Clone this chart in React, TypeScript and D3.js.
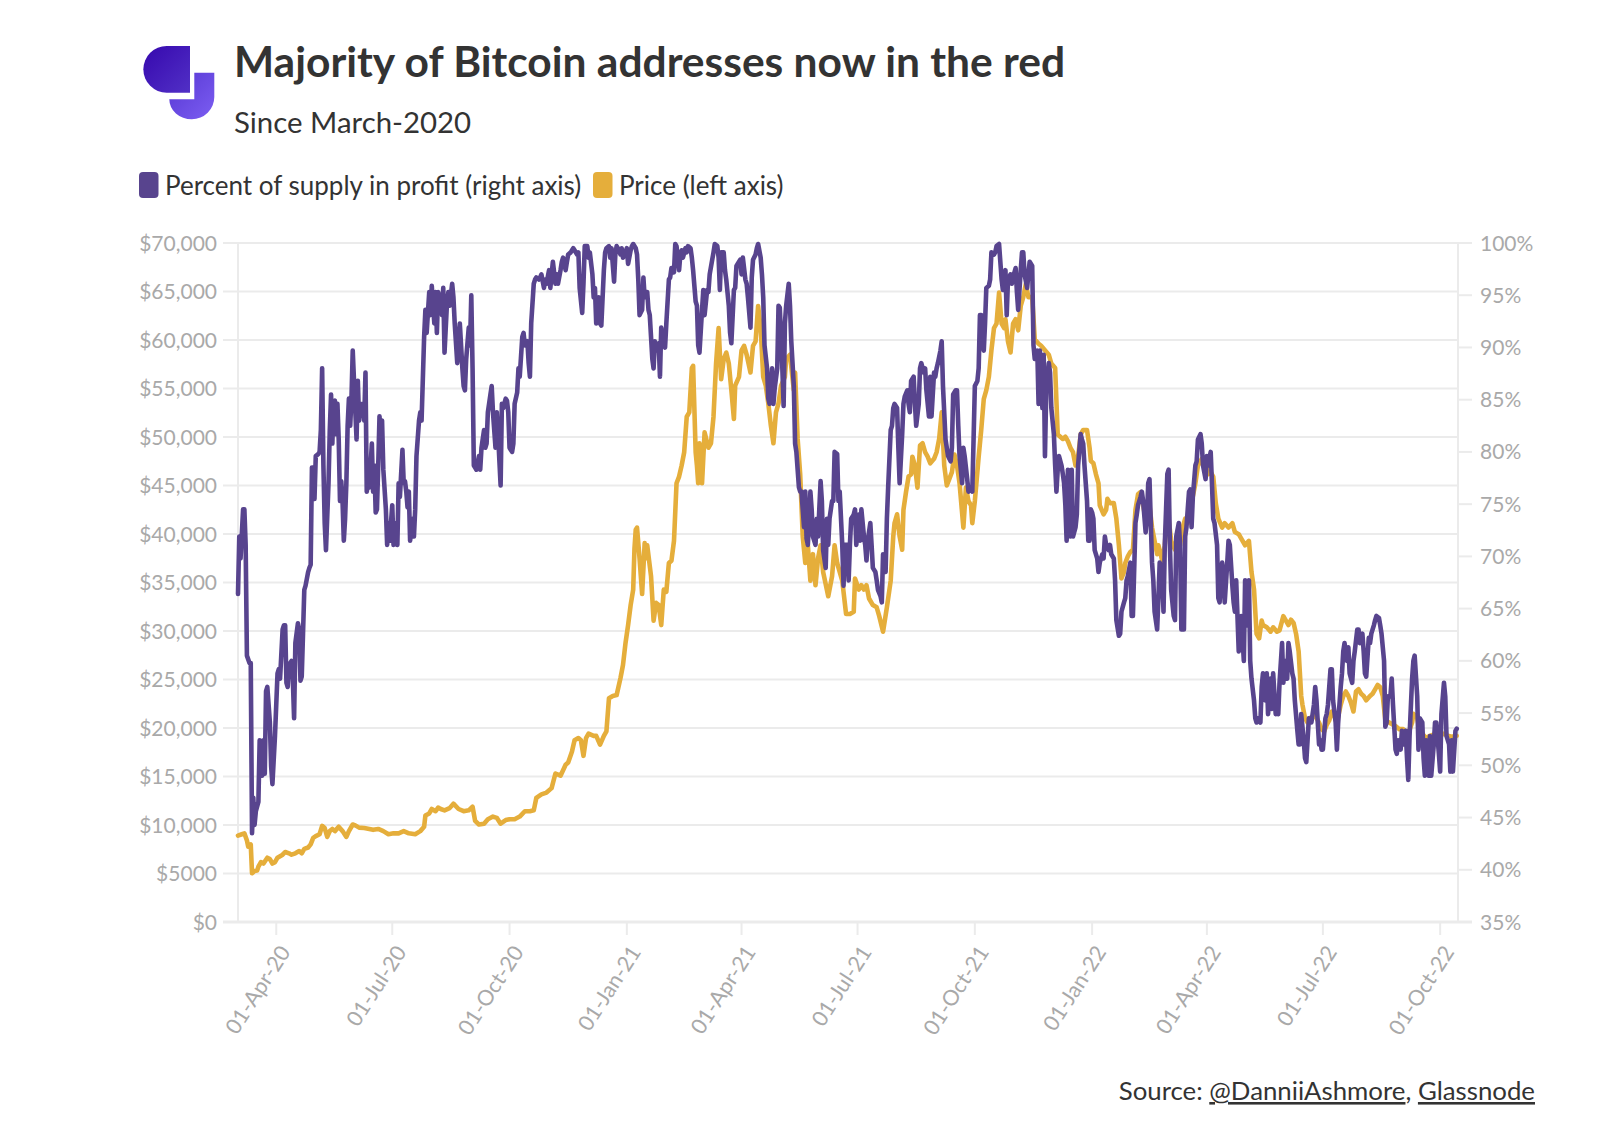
import React from "react";
import * as d3 from "d3";

// ---------- text ----------
const TITLE = "Majority of Bitcoin addresses now in the red";
const SUBTITLE = "Since March-2020";
const LEGEND_LABELS = ["Percent of supply in profit (right axis)", "Price (left axis)"];
const SOURCE_PREFIX = "Source: ";
const SOURCE_LINKS = ["@DanniiAshmore", "Glassnode"];

// ---------- axes ----------
const SERIES_START = "2020-03-02";
const SERIES_END = "2022-10-15";
const dateTicks = [
  "2020-04-01", "2020-07-01", "2020-10-01", "2021-01-01", "2021-04-01", "2021-07-01",
  "2021-10-01", "2022-01-01", "2022-04-01", "2022-07-01", "2022-10-01",
];
const priceTicks = [0, 5000, 10000, 15000, 20000, 25000, 30000, 35000, 40000, 45000, 50000, 55000, 60000, 65000, 70000];
const profitTicks = [35, 40, 45, 50, 55, 60, 65, 70, 75, 80, 85, 90, 95, 100];

// ---------- data: [days since SERIES_START, value] ----------
// BTC price, USD (left axis)
const price: [number, number][] = [
  [0,8910],[3,9050],[5,9140],[7,8400],[8,7770],[10,8000],[11,5030],[13,5250],[15,5300],[16,5710],[18,6170],[20,6030],[23,6630],[25,6490],[27,6030],[29,6170],[31,6630],[35,6940],[37,7220],[40,7080],[42,6940],[45,7080],[48,7310],[50,7080],[52,7540],[55,7680],[57,8000],[59,8680],[61,8860],[64,9050],[66,9910],[68,9690],[70,8770],[72,9370],[74,9590],[76,9370],[79,9820],[82,9370],[85,8770],[87,9370],[90,10050],[92,9960],[95,9730],[99,9690],[103,9590],[106,9500],[110,9590],[114,9370],[118,9050],[122,9140],[126,9140],[130,9370],[134,9140],[139,9050],[143,9370],[146,9820],[147,10970],[150,11190],[152,11650],[155,11420],[157,11790],
  [159,11650],[162,11510],[166,11740],[169,12200],[173,11650],[177,11420],[181,11510],[184,11880],[186,10420],[189,10050],[193,10140],[196,10600],[200,10870],[203,10740],[206,10140],[210,10510],[213,10600],[217,10600],[221,10870],[225,11420],[229,11420],[232,11510],[234,12790],[238,13160],[242,13340],[246,13800],[249,15310],[253,15080],[257,16220],[259,16450],[262,17590],[264,18730],[267,18960],[269,18730],[271,17130],[273,18960],[275,19420],[279,19190],[281,19190],[284,18280],[287,19190],[289,19650],[291,23070],[294,23300],[297,23390],[300,25130],[302,26500],[304,28780],[306,30610],[308,32670],[310,34270],[311,38500],[312,40440],[313,40660],[315,37470],[317,33810],[319,39060],[320,37500],[321,38840],
  [324,35640],[326,31070],[328,32900],[330,32670],[332,30610],[334,34270],[336,34040],[338,37010],[340,37240],[342,39290],[344,45230],[346,45920],[348,47060],[350,48430],[352,52090],[354,52540],[356,57110],[357,57340],[359,48430],[360,47060],[361,45230],[362,49350],[364,45230],[366,50490],[369,48890],[371,49350],[373,52090],[375,57570],[377,61220],[379,55970],[381,58020],[383,58710],[385,57570],[387,54830],[389,51860],[390,55290],[393,56200],[395,58940],[397,59400],[399,58480],[402,56650],[404,59400],[406,59850],[408,63510],[410,61220],[412,56200],[414,55290],[416,53460],[418,51170],[420,49350],[422,52540],[424,53460],[426,55290],[429,56200],[430,58020],[433,58480],[436,54830],[437,56650],[439,49800],[441,46150],[443,39750],[445,37010],[447,38840],[449,35180],[451,37920],[453,34720],[455,37470],[457,38840],[459,36090],[463,33580],[466,35640],[468,38840],[470,37010],[474,35180],[477,31750],[480,31750],[483,31980],
  [484,35410],[487,34270],[489,34720],[491,34270],[493,34720],[495,33350],[498,32670],[501,32440],[503,31530],[506,29930],[509,32440],[512,35180],[514,39750],[515,41120],[517,42030],[519,39750],[521,38380],[522,42490],[524,44320],[526,45920],[528,46150],[529,47970],[531,47060],[533,44780],[535,49120],[537,49350],[539,48430],[541,47970],[543,47290],[546,47750],[548,48430],[550,49800],[552,52540],[554,47060],[556,45000],[558,45690],[560,46380],[562,48200],[564,47060],[566,45230],[569,40660],[571,44780],[573,43400],[575,42950],[576,41120],[578,43400],[581,47970],[583,50720],[585,53910],[587,54830],[589,56200],[591,58940],[593,61220],[595,61680],[597,64880],[599,61680],[601,61220],[602,62140],[604,59850],[606,58710],[608,61680],[610,62140],[612,61000],[614,63510],[616,64420],[618,65790],[620,64420],[623,64420],[625,60080],[628,59620],[630,59400],[633,58940],[636,58480],[638,57570],
  [641,57110],[643,50260],[647,49800],[649,50030],[651,49570],[653,48890],[655,48430],[657,47060],[659,47970],[661,50260],[663,50720],[666,50720],[668,48890],[669,47520],[671,47290],[673,46150],[675,45230],[676,42950],[679,42030],[681,42490],[682,43630],[684,43180],[687,43180],[689,41580],[691,38840],[693,35410],[695,36090],[696,37010],[698,37690],[700,38150],[702,38380],[704,42490],[706,44090],[708,44320],[711,42260],[713,42490],[715,42950],[717,40660],[719,39290],[721,37920],[722,38840],[725,37240],[727,38840],[729,42490],[730,41580],[732,39290],[735,38380],[737,39290],[739,38840],[741,40660],[743,41580],[745,41120],[747,42490],[749,43860],[751,45230],[753,47060],[756,47750],[759,47290],[761,46150],[763,46380],[765,45920],[767,43180],[769,41580],[772,40660],[774,41120],[777,40660],[780,41120],[782,40200],[785,39980],[787,39520],[790,38840],[793,39290],[795,36090],[797,34270],[799,29700],[801,29240],[803,31070],
  [804,30610],[807,30380],[810,29930],[812,30380],[815,29930],[817,30060],[820,31530],[822,31070],[824,30610],[826,31160],[828,30840],[830,29700],[832,27870],[834,23300],[835,22390],[837,21020],[839,20560],[841,21020],[844,21250],[846,21020],[848,20560],[850,19880],[852,19650],[854,20330],[856,20790],[858,21700],[860,21250],[862,20560],[865,22390],[867,23300],[869,23760],[871,23300],[873,22620],[875,21700],[877,23760],[879,23990],[881,23530],[883,23300],[885,22850],[888,23300],[890,23530],[892,23990],[894,24440],[896,24210],[898,23300],[900,20790],[903,20560],[906,20330],[908,20200],[911,19880],[914,19880],[916,19650],[918,19420],[921,20560],[922,21470],[925,21020],[927,19650],[929,19420],[932,18960],[935,19190],[937,19280],[940,19420],[943,19190],[946,19420],[949,19190],[952,19100],[956,19190],
];

// Percent of supply in profit, % (right axis)
const profit: [number, number][] = [
  [0,66.4],[1,71.9],[2,69.8],[4,74.5],[5,74.5],[6,71.1],[7,60.5],[9,59.8],[10,59.8],[11,43.5],[12,46.9],[13,44.3],[14,45.6],[16,46.5],[17,52.4],[19,49.0],[20,52.4],[21,49.2],[22,57.1],[23,57.5],[25,54.1],[26,49.9],[27,48.2],[29,52.8],[31,58.8],[32,59.2],[33,58.3],[35,63.0],[36,63.4],[37,63.4],[38,57.9],[39,57.5],[40,59.6],[42,60.0],[43,58.3],[44,54.5],[45,61.7],[47,63.6],[48,63.0],[49,58.1],[50,58.5],[51,62.6],[52,66.8],[53,67.2],[55,68.5],[56,68.9],[57,69.2],[58,78.5],[59,78.5],[60,75.5],[61,79.6],[63,79.8],[64,80.0],[65,82.1],[66,88.0],[67,78.7],[68,73.2],[69,70.6],[71,77.0],[72,82.1],[73,85.5],[74,80.8],[75,84.6],[76,84.9],[77,81.7],[78,84.6],[79,81.2],[80,75.3],[81,77.2],[82,75.3],[83,71.5],[84,73.6],[85,77.0],[86,82.5],[87,85.1],[88,82.5],[89,85.1],[90,89.7],[91,86.8],[93,81.2],[94,86.8],[95,83.0],[96,84.6],[97,83.8],[98,84.6],[99,83.0],[100,87.6],[101,76.2],[102,77.0],[103,76.6],[105,80.8],[106,76.2],[107,78.7],[108,74.2],[109,74.5],[110,78.7],[111,83.4],[112,81.2],[113,83.0],[114,78.3],[116,74.5],[117,71.1],[118,73.2],[119,71.5],[121,74.9],[122,71.1],[123,73.2],[125,71.1],[126,77.0],[127,75.7],[129,80.2],[130,77.0],[131,77.2],[132,76.2],[133,74.7],[134,76.2],[135,71.5],[137,73.6],[138,71.9],[139,74.5],[140,79.6],[142,83.0],[143,83.8],[144,83.0],[146,91.0],[147,93.6],[148,91.4],[150,95.3],[151,93.1],[152,95.9],[154,92.3],[155,95.3],[156,91.4],[157,95.3],
  [159,94.4],[160,93.1],[161,95.7],[162,89.5],[164,94.4],[165,95.3],[166,94.0],[168,96.1],[169,94.8],[170,92.3],[172,88.5],[173,90.2],[174,92.3],[176,88.0],[177,86.3],[178,85.9],[179,88.9],[181,91.9],[182,90.2],[183,95.0],[184,88.0],[185,78.7],[186,78.5],[187,78.3],[189,79.6],[190,78.3],[191,80.4],[193,82.1],[194,80.4],[195,80.8],[196,83.8],[198,85.5],[199,86.3],[200,83.8],[202,80.4],[203,83.8],[204,81.7],[206,76.8],[207,84.6],[208,84.2],[210,85.1],[211,84.9],[212,83.8],[213,80.4],[215,80.0],[216,80.8],[217,84.6],[219,85.7],[220,88.0],[221,87.2],[223,91.0],[224,91.4],[225,90.2],[227,90.6],[228,88.5],[229,87.2],[230,92.3],[232,96.1],[233,96.5],[234,96.7],[236,96.5],[237,96.7],[238,97.0],[240,95.7],[241,96.5],[242,96.1],[244,97.4],[245,95.7],[246,97.0],[247,98.2],[249,96.1],[250,97.0],[251,96.1],[253,97.4],[254,98.2],[255,98.6],[257,97.4],[258,98.2],[259,98.9],[261,99.1],[262,99.3],[263,99.5],[264,99.3],[266,98.9],[267,99.1],[268,95.7],[270,93.3],[271,96.1],[272,99.7],[274,99.7],[275,98.6],[276,99.1],[278,97.0],[279,94.8],[280,95.7],[281,92.3],[283,94.8],[284,92.3],[285,92.1],[287,97.4],[288,99.1],[289,99.5],[291,99.7],[292,98.6],[293,99.5],[295,96.3],[296,98.9],[297,99.7],[298,99.5],[300,98.9],[301,99.5],[302,98.6],[304,99.1],[305,99.5],[306,98.0],[308,99.3],[309,99.7],[310,99.9],[312,99.5],[313,98.9],[314,96.5],[315,93.1],[317,93.6],[318,96.7],[319,94.8],[321,95.3],
  [322,93.6],[323,93.1],[325,88.9],[326,88.0],[327,90.6],[328,89.7],[330,90.4],[331,87.2],[332,91.9],[334,90.2],[335,90.0],[336,92.3],[338,96.5],[339,96.7],[340,97.6],[342,97.2],[343,99.9],[344,99.7],[346,97.4],[347,98.9],[348,99.3],[349,98.6],[351,99.5],[352,99.1],[353,99.7],[355,99.5],[356,98.6],[357,97.4],[359,94.4],[360,94.0],[361,90.2],[362,89.5],[364,93.6],[365,95.5],[366,93.1],[368,95.5],[369,95.3],[370,97.0],[372,98.4],[373,99.1],[374,99.9],[376,99.7],[377,98.6],[378,95.5],[379,99.1],[381,99.1],[382,97.4],[383,96.5],[385,94.0],[386,91.4],[387,90.4],[389,95.5],[390,95.7],[391,97.8],[393,98.2],[394,98.4],[395,97.0],[396,98.6],[398,96.5],[399,96.1],[400,94.8],[402,91.9],[403,96.7],[404,98.4],[406,98.9],[407,99.5],[408,99.9],[410,98.6],[411,97.0],[412,94.8],[413,90.2],[415,88.0],[416,85.1],[417,84.6],[419,88.0],[420,84.6],[421,86.1],[423,88.0],[424,94.0],[425,93.8],[427,88.0],[428,84.4],[429,92.3],[430,94.0],[432,96.1],[433,94.0],[434,90.6],[436,86.3],[437,80.8],[438,80.0],[440,76.6],[441,76.2],[442,76.2],[444,72.8],[445,76.2],[446,71.7],[447,71.1],[449,76.2],[450,74.5],[451,71.9],[453,71.1],[454,73.6],[455,71.9],[457,77.2],[458,75.3],[459,70.6],[461,68.9],[462,73.6],[463,71.1],[464,73.6],[466,75.3],[467,75.3],[468,80.0],[470,79.8],[471,75.3],[472,76.2],[474,71.1],[475,67.2],[476,71.1],[478,71.1],[479,67.7],[480,71.1],[481,73.6],[483,74.0],
  [484,74.5],[485,71.1],[487,74.0],[488,71.5],[489,74.5],[491,71.9],[492,71.1],[493,69.6],[494,71.5],[496,73.2],[497,71.1],[498,68.9],[500,68.5],[501,67.7],[502,66.8],[504,66.2],[505,65.6],[506,70.2],[508,68.5],[509,73.6],[510,76.6],[512,82.1],[513,82.5],[514,84.2],[515,84.6],[517,84.2],[518,80.4],[519,77.0],[521,81.7],[522,84.6],[523,85.3],[525,85.9],[526,84.6],[527,83.8],[528,86.8],[530,87.2],[531,84.6],[532,82.5],[534,84.6],[535,88.0],[536,88.5],[538,87.6],[539,88.0],[540,85.9],[542,83.4],[543,87.2],[544,83.4],[546,87.6],[547,87.2],[548,88.0],[549,88.5],[551,89.7],[552,90.6],[553,86.3],[555,81.2],[556,80.4],[557,79.6],[559,79.1],[560,80.4],[561,85.5],[563,85.9],[564,85.9],[565,82.5],[566,79.6],[568,77.0],[569,80.4],[570,79.6],[572,77.4],[573,76.2],[574,76.6],[576,76.2],[577,81.2],[578,86.3],[580,86.8],[581,88.0],[582,93.1],[583,93.1],[585,89.7],[586,92.3],[587,95.7],[589,95.9],[590,96.5],[591,99.1],[593,98.9],[594,99.1],[595,99.7],[597,99.9],[598,98.2],[599,96.5],[600,95.5],[602,97.4],[603,93.1],[604,96.5],[606,97.0],[607,96.1],[608,96.7],[610,97.6],[611,95.3],[612,93.6],[614,97.4],[615,99.1],[616,99.1],[617,97.0],[619,95.7],[620,97.0],[621,98.2],[623,97.8],[624,90.2],[625,88.9],[627,89.7],[628,84.6],[629,89.7],[631,84.2],[632,89.3],[633,79.6],[634,85.9],[636,88.5],[637,87.6],[638,84.2],[640,81.7],[641,78.7],[642,76.2],[643,78.3],
  [644,79.6],[646,78.7],[647,77.9],[648,77.0],[649,74.9],[650,71.5],[651,78.3],[653,71.9],[654,78.3],[655,71.9],[657,72.8],[658,74.0],[659,78.7],[661,81.7],[662,81.2],[663,80.8],[664,78.7],[666,75.3],[667,71.5],[668,71.5],[669,74.5],[670,74.2],[671,73.6],[672,70.6],[674,69.8],[675,68.5],[676,69.4],[678,70.2],[679,69.8],[680,71.9],[681,71.1],[683,70.6],[684,71.1],[685,70.2],[687,69.8],[688,67.7],[689,63.9],[691,62.4],[692,62.6],[693,64.7],[695,65.6],[696,66.0],[697,67.7],[698,68.1],[700,69.4],[701,64.3],[702,64.3],[704,73.2],[705,74.0],[706,74.9],[708,75.7],[709,76.2],[710,75.3],[712,72.3],[713,73.6],[714,77.0],[715,77.4],[717,69.4],[718,67.7],[719,64.7],[721,63.0],[722,66.0],[723,69.4],[725,68.1],[726,64.7],[727,71.1],[729,77.9],[730,78.3],[731,71.1],[732,66.8],[734,64.3],[735,63.9],[736,71.9],[738,73.2],[739,71.1],[740,63.0],[742,63.0],[743,71.9],[744,72.8],[746,76.2],[747,76.4],[748,72.8],[749,75.7],[751,78.7],[752,79.1],[753,81.2],[755,81.7],[756,80.8],[757,78.7],[759,77.4],[760,79.6],[761,78.7],[763,80.0],[764,77.0],[765,73.6],[766,73.2],[768,71.1],[769,66.0],[770,65.6],[772,69.4],[773,68.5],[774,65.6],[776,69.4],[777,71.5],[778,71.1],[780,67.2],[781,65.6],[782,64.7],[783,67.7],[785,60.9],[786,61.7],[787,64.3],[789,60.0],[790,67.7],[791,63.4],[793,67.7],[794,60.0],[795,58.3],[797,56.2],[798,54.5],[799,54.1],[800,54.5],[802,54.1],[803,57.5],[804,58.8],
  [806,56.2],[807,58.8],[808,54.9],[810,58.3],[811,55.4],[812,58.8],[814,54.9],[815,55.8],[816,54.9],[817,57.9],[819,61.7],[820,57.9],[821,60.0],[823,58.3],[824,61.7],[825,60.9],[827,58.8],[828,58.3],[829,56.2],[831,53.3],[832,52.0],[833,52.0],[834,54.9],[836,52.4],[837,50.7],[838,50.3],[840,54.5],[841,54.1],[842,54.1],[844,55.8],[845,57.5],[846,56.2],[848,52.0],[849,52.4],[850,51.5],[851,51.5],[853,54.5],[854,54.9],[855,55.8],[857,59.2],[858,59.2],[859,56.2],[861,54.1],[862,51.5],[863,54.1],[865,57.5],[866,58.8],[867,60.9],[868,61.7],[870,60.0],[871,61.3],[872,58.8],[874,57.9],[875,60.0],[876,60.9],[878,63.0],[879,63.0],[880,61.7],[882,62.6],[883,60.9],[884,58.8],[885,58.5],[887,62.2],[888,61.7],[889,62.6],[891,63.4],[892,63.9],[893,64.3],[895,64.1],[896,63.4],[897,62.6],[899,60.0],[900,53.7],[901,54.1],[902,56.6],[904,56.6],[905,58.3],[906,55.8],[908,51.5],[909,51.1],[910,52.4],[912,51.5],[913,53.3],[914,52.0],[916,53.3],[917,50.7],[918,48.6],[919,52.8],[921,58.3],[922,60.0],[923,60.5],[925,56.6],[926,51.5],[927,54.5],[929,54.1],[930,50.7],[931,49.0],[932,52.4],[934,49.0],[935,52.8],[936,49.0],[938,52.0],[939,54.1],[940,54.1],[942,51.1],[943,49.4],[944,54.9],[946,57.9],[947,56.6],[948,52.8],[950,52.0],[951,49.4],[952,52.4],[953,49.4],[955,53.3],[956,53.5],
];

// ---------- styles ----------
const FONT = "Lato, 'Open Sans', 'DejaVu Sans', sans-serif";
const PURPLE = "#58448e";
const GOLD = "#e5ae3b";
const GRID = "#ebebeb";
const TICK_TEXT = "#a9a9a9";
const TEXT = "#333333";

export default function App() {
  const W = 1600;
  const H = 1130;
  const left = 238, right = 1458, top = 243, bottom = 922;

  const start = new Date(SERIES_START + "T00:00:00Z");
  const end = new Date(SERIES_END + "T00:00:00Z");
  const toDate = (d: number) => d3.utcDay.offset(start, d);

  const x = d3.scaleUtc().domain([start, end]).range([left, right]);
  const yPrice = d3.scaleLinear().domain([0, 70000]).range([bottom, top]);
  const yPct = d3.scaleLinear().domain([35, 100]).range([bottom, top]);

  const priceLine = d3.line<[number, number]>()
    .x((p) => x(toDate(p[0])))
    .y((p) => yPrice(p[1]));
  const profitLine = d3.line<[number, number]>()
    .x((p) => x(toDate(p[0])))
    .y((p) => yPct(p[1]));

  const fmtPrice = (v: number) => (v < 10000 ? `$${v}` : `$${d3.format(",")(v)}`);
  const fmtDate = d3.utcFormat("%d-%b-%y");

  return (
    <svg
      width={W}
      height={H}
      viewBox={`0 0 ${W} ${H}`}
      style={{ position: "absolute", left: 0, top: 0, background: "#ffffff", display: "block" }}
      fontFamily={FONT}
    >
      <defs>
        <linearGradient id="logoDark" x1="0" y1="0" x2="1" y2="1">
          <stop offset="0%" stopColor="#3608ae" />
          <stop offset="100%" stopColor="#5130c6" />
        </linearGradient>
        <linearGradient id="logoLight" x1="0" y1="0" x2="1" y2="1">
          <stop offset="0%" stopColor="#5636d2" />
          <stop offset="100%" stopColor="#7c5ef2" />
        </linearGradient>
      </defs>
      <rect x={0} y={0} width={W} height={H} fill="#ffffff" />

      {/* logo */}
      <path d="M194.3,72.7 H214.3 V97 A22.5,22.3 0 0 1 191.8,119.3 A22.5,20 0 0 1 169.3,99.3 H194.3 Z" fill="url(#logoLight)" />
      <path d="M190,46 H166.7 A23.35,23.35 0 0 0 166.7,92.7 H190 Z" fill="url(#logoDark)" />

      {/* titles */}
      <text x={234} y={77} fontSize={42.5} fontWeight={700} fill={TEXT}>{TITLE}</text>
      <text x={234} y={133} fontSize={29.4} fill={TEXT}>{SUBTITLE}</text>

      {/* legend */}
      <rect x={139} y={172} width={19.5} height={26} rx={4} fill={PURPLE} />
      <text x={165} y={195} fontSize={26} fill={TEXT}>{LEGEND_LABELS[0]}</text>
      <rect x={593} y={172} width={19.5} height={26} rx={4} fill={GOLD} />
      <text x={619} y={195} fontSize={26} fill={TEXT}>{LEGEND_LABELS[1]}</text>

      {/* horizontal grid + left ticks/labels */}
      {priceTicks.map((t) => (
        <g key={"p" + t}>
          <line x1={223} x2={right} y1={yPrice(t)} y2={yPrice(t)} stroke={GRID} strokeWidth={2} />
          <text x={217} y={yPrice(t)} dy="0.36em" textAnchor="end" fontSize={21} fill={TICK_TEXT}>
            {fmtPrice(t)}
          </text>
        </g>
      ))}

      {/* vertical axis lines */}
      <line x1={left} x2={left} y1={top} y2={bottom} stroke={GRID} strokeWidth={2} />
      <line x1={right} x2={right} y1={top} y2={bottom} stroke={GRID} strokeWidth={2} />

      {/* right ticks/labels */}
      {profitTicks.map((t) => (
        <g key={"r" + t}>
          <line x1={right} x2={1472} y1={yPct(t)} y2={yPct(t)} stroke={GRID} strokeWidth={2} />
          <text x={1480} y={yPct(t)} dy="0.36em" textAnchor="start" fontSize={21} fill={TICK_TEXT}>
            {t}%
          </text>
        </g>
      ))}

      {/* bottom axis */}
      <line x1={223} x2={1472} y1={bottom} y2={bottom} stroke={GRID} strokeWidth={3} />
      {dateTicks.map((s) => {
        const d = new Date(s + "T00:00:00Z");
        const tx = x(d);
        return (
          <g key={s}>
            <line x1={tx} x2={tx} y1={bottom} y2={bottom + 13} stroke={GRID} strokeWidth={2} />
            <text
              transform={`translate(${tx + 15},${bottom + 30}) rotate(-57)`}
              textAnchor="end"
              fontSize={21.5}
              fill={TICK_TEXT}
            >
              {fmtDate(d)}
            </text>
          </g>
        );
      })}

      {/* series */}
      <path d={priceLine(price) || ""} fill="none" stroke={GOLD} strokeWidth={4.6} strokeLinejoin="round" strokeLinecap="round" />
      <path d={profitLine(profit) || ""} fill="none" stroke={PURPLE} strokeWidth={4.6} strokeLinejoin="round" strokeLinecap="round" />

      {/* source */}
      <text x={1535} y={1100} textAnchor="end" fontSize={25.8} fill={TEXT}>
        {SOURCE_PREFIX}
        <tspan textDecoration="underline">{SOURCE_LINKS[0]}</tspan>
        {", "}
        <tspan textDecoration="underline">{SOURCE_LINKS[1]}</tspan>
      </text>
    </svg>
  );
}
